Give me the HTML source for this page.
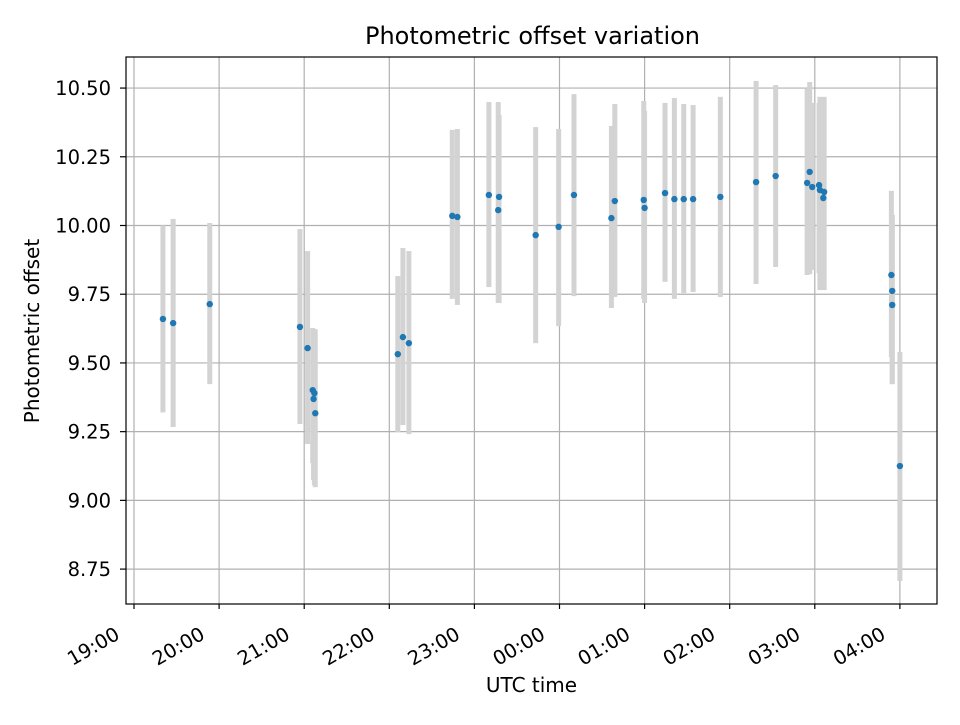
<!DOCTYPE html>
<html><head><meta charset="utf-8"><style>
body{margin:0;background:#fff;font-family:"Liberation Sans","DejaVu Sans",sans-serif}
svg text{font-family:"DejaVu Sans","Liberation Sans",sans-serif;fill:#000}
</style></head><body>
<svg id="chart" width="960" height="720" xmlns="http://www.w3.org/2000/svg"></svg>
<script>
const times=[0.34,0.46,0.89,1.95,2.04,2.10,2.12,2.11,2.13,3.10,3.16,3.23,3.74,3.80,4.17,4.29,4.28,4.72,4.99,5.17,5.61,5.65,5.99,6.00,6.24,6.35,6.46,6.57,6.89,7.31,7.54,7.91,7.94,7.97,8.05,8.06,8.11,8.10,8.90,8.91,8.91,9.00];
const offsets=[9.66,9.645,9.714,9.631,9.554,9.401,9.390,9.369,9.317,9.532,9.594,9.572,10.035,10.031,10.111,10.104,10.056,9.965,9.995,10.111,10.027,10.089,10.093,10.064,10.118,10.096,10.096,10.096,10.104,10.158,10.180,10.155,10.195,10.140,10.147,10.129,10.122,10.100,9.820,9.762,9.711,9.125];
const upper=[10.00,10.024,10.009,9.987,9.907,9.627,9.583,9.583,9.623,9.816,9.918,9.907,10.348,10.351,10.449,10.402,10.449,10.358,10.351,10.478,10.362,10.442,10.453,10.417,10.446,10.464,10.442,10.438,10.468,10.526,10.511,10.497,10.522,10.446,10.446,10.468,10.468,10.420,10.126,10.038,10.038,9.540];
const lower=[9.32,9.267,9.423,9.278,9.205,9.136,9.056,9.074,9.048,9.249,9.274,9.241,9.733,9.711,9.776,9.718,9.718,9.572,9.634,9.743,9.700,9.740,9.733,9.718,9.795,9.733,9.754,9.758,9.740,9.787,9.849,9.820,9.823,9.838,9.827,9.765,9.765,9.772,9.521,9.423,9.423,8.707];
const xTicks=[0,1,2,3,4,5,6,7,8,9];
const xTickLabels=["19:00","20:00","21:00","22:00","23:00","00:00","01:00","02:00","03:00","04:00"];
const yTicks=[8.75,9.00,9.25,9.50,9.75,10.00,10.25,10.50];

const L=126,R=937,T=57,B=604;
const xMin=-0.094,xMax=9.436,yMin=8.623,yMax=10.613;
const X=t=>L+(t-xMin)/(xMax-xMin)*(R-L);
const Y=v=>B-(v-yMin)/(yMax-yMin)*(B-T);
const svg=document.getElementById('chart');
const NS='http://www.w3.org/2000/svg';
function mk(tag,attrs,parent){const e=document.createElementNS(NS,tag);for(const k in attrs)e.setAttribute(k,attrs[k]);(parent||svg).appendChild(e);return e;}

const grid=mk('g',{});


xTicks.forEach(t=>{mk('line',{x1:X(t),x2:X(t),y1:T,y2:B,stroke:'#b0b0b0','stroke-width':1.2},grid);});
yTicks.forEach(v=>{mk('line',{x1:L,x2:R,y1:Y(v),y2:Y(v),stroke:'#b0b0b0','stroke-width':1.2},grid);});

const bars=mk('g',{});


times.forEach((t,i)=>{
  const r=mk('rect',{x:X(t)-2.5,y:Y(upper[i]),width:5,height:Y(lower[i])-Y(upper[i]),fill:'#d3d3d3'},bars);
  
  
});
const pts=mk('g',{});


times.forEach((t,i)=>{
  const c=mk('circle',{cx:X(t),cy:Y(offsets[i]),r:3.2,fill:'#1f77b4'},pts);
  
  
});

const frame=mk('rect',{x:L,y:T,width:R-L,height:B-T,fill:'none',stroke:'#000','stroke-width':1.2});



const xa=mk('g',{});


xTicks.forEach((t,i)=>{
  const x=X(t);
  mk('line',{x1:x,x2:x,y1:B,y2:B+5,stroke:'#000','stroke-width':1.2},xa);
  const ax=x-13, ay=B+34;
  const tx=mk('text',{x:ax,y:ay,'font-size':19.5,'text-anchor':'end',transform:`rotate(-30 ${ax} ${ay})`},xa);
  
  
  tx.textContent=xTickLabels[i];
});
const ya=mk('g',{});


yTicks.forEach(v=>{
  const y=Y(v);
  mk('line',{x1:L-6,x2:L,y1:y,y2:y,stroke:'#000','stroke-width':1.2},ya);
  const tx=mk('text',{x:L-15,y:y+7,'font-size':19.5,'text-anchor':'end'},ya);
  
  
  tx.textContent=v.toFixed(2);
});
const title=mk('text',{x:(L+R)/2+1,y:44,'font-size':24,'text-anchor':'middle'});


title.textContent='Photometric offset variation';
const xt=mk('text',{x:(L+R)/2,y:692,'font-size':20,'text-anchor':'middle'});


xt.textContent='UTC time';
const yt=mk('text',{x:39,y:331,'font-size':20,'text-anchor':'middle',transform:`rotate(-90 39 331)`});


yt.textContent='Photometric offset';
</script>
</body></html>
